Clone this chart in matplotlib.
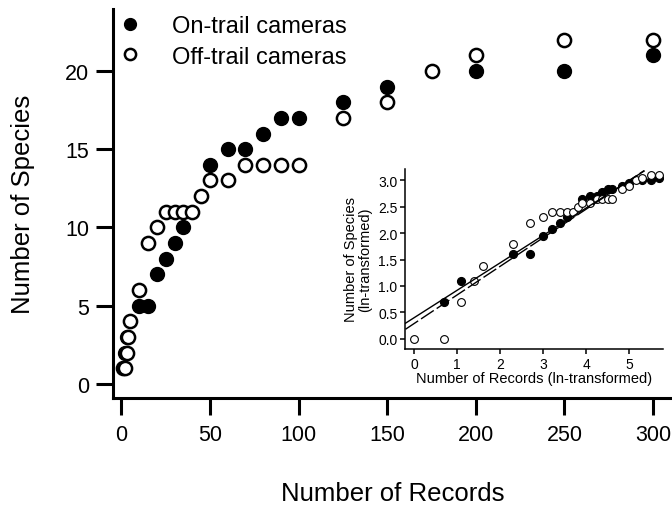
import numpy as np
import matplotlib.pyplot as plt

plt.rcParams['font.family'] = ['Liberation Sans', 'DejaVu Sans']

# species accumulation
on_records = [2, 3, 10, 15, 20, 25, 30, 35, 50, 60, 70, 80, 90, 100, 125, 150, 200, 250, 300]
on_species = [2, 3, 5, 5, 7, 8, 9, 10, 14, 15, 15, 16, 17, 17, 18, 19, 20, 20, 21]

off_records = [1, 2, 3, 4, 5, 10, 15, 20, 25, 30, 35, 40, 45, 50, 60, 70, 80, 90, 100,
               125, 150, 175, 200, 250, 300]
off_species = [1, 1, 2, 3, 4, 6, 9, 10, 11, 11, 11, 11, 12, 13, 13, 14, 14, 14, 14,
               17, 18, 20, 21, 22, 22]

# regression lines in the inset (ln-ln)
fit_intercepts = [0.40, 0.29]
fit_slopes = [0.518, 0.54]
fit_styles = ['-', (0, (11, 2.5))]
fit_x_range = [-0.2, 5.35]

main_xticks = [0, 50, 100, 150, 200, 250, 300]
main_yticks = [0, 5, 10, 15, 20]
inset_xticks = [0, 1, 2, 3, 4, 5]
inset_yticks = [0.0, 0.5, 1.0, 1.5, 2.0, 2.5, 3.0]

fig = plt.figure(figsize=(6.72, 5.06), dpi=100)

# ---- main panel ----
ax = fig.add_axes([0.168, 0.2115, 0.832, 0.769])
ax.plot(on_records, on_species, 'o', color='black', ms=10, label='On-trail cameras')
ax.plot(off_records, off_species, 'o', mfc='white', mec='black', mew=1.8, ms=9.5,
        label='Off-trail cameras')

ax.set_xlim(-4.8, 310.7)
ax.set_ylim(-0.89, 23.96)
ax.set_xticks(main_xticks)
ax.set_yticks(main_yticks)
for s in ['top', 'right']:
    ax.spines[s].set_visible(False)
for s in ['left', 'bottom']:
    ax.spines[s].set_linewidth(2.2)
ax.tick_params(axis='both', length=12, width=2.2, labelsize=15.5)
ax.tick_params(axis='y', pad=5)
ax.tick_params(axis='x', pad=7)
ax.set_xlabel('Number of Records', fontsize=18.5, labelpad=26)
ax.set_ylabel('Number of Species', fontsize=18.5, labelpad=22)

ax.legend(loc='upper left', bbox_to_anchor=(0.1756, 0.968), bbox_transform=fig.transFigure,
          frameon=False, fontsize=17, handlelength=1.0, handletextpad=1.3,
          labelspacing=0.36, borderaxespad=0, borderpad=0, markerscale=0.85)

# ---- inset ----
ins = fig.add_axes([405 / 672, 156 / 506, 258 / 672, 180 / 506])
ins.patch.set_alpha(0)
ins.plot(np.log(on_records), np.log(on_species), 'o', color='black', ms=5.6)
ins.plot(np.log(off_records), np.log(off_species), 'o', mfc='white', mec='black',
         mew=0.8, ms=5.6)
xs = np.array(fit_x_range)
for b0, b1, ls in zip(fit_intercepts, fit_slopes, fit_styles):
    ins.plot(xs, b0 + b1 * xs, color='black', lw=1.0, linestyle=ls)

ins.set_xlim(-0.21, 5.79)
ins.set_ylim(-0.19, 3.21)
ins.set_xticks(inset_xticks)
ins.set_yticks(inset_yticks)
ins.set_yticklabels([f'{v:.1f}' for v in inset_yticks])
for s in ['top', 'right']:
    ins.spines[s].set_visible(False)
for s in ['left', 'bottom']:
    ins.spines[s].set_linewidth(1.1)
ins.tick_params(axis='both', length=3.5, width=1.1, labelsize=10, pad=2)
ins.set_xlabel('Number of Records (ln-transformed)', fontsize=10.5, labelpad=0)
ins.set_ylabel('Number of Species\n(ln-transformed)', fontsize=10.5, labelpad=4,
               linespacing=1.0)

fig.savefig('out.png', dpi=100)
